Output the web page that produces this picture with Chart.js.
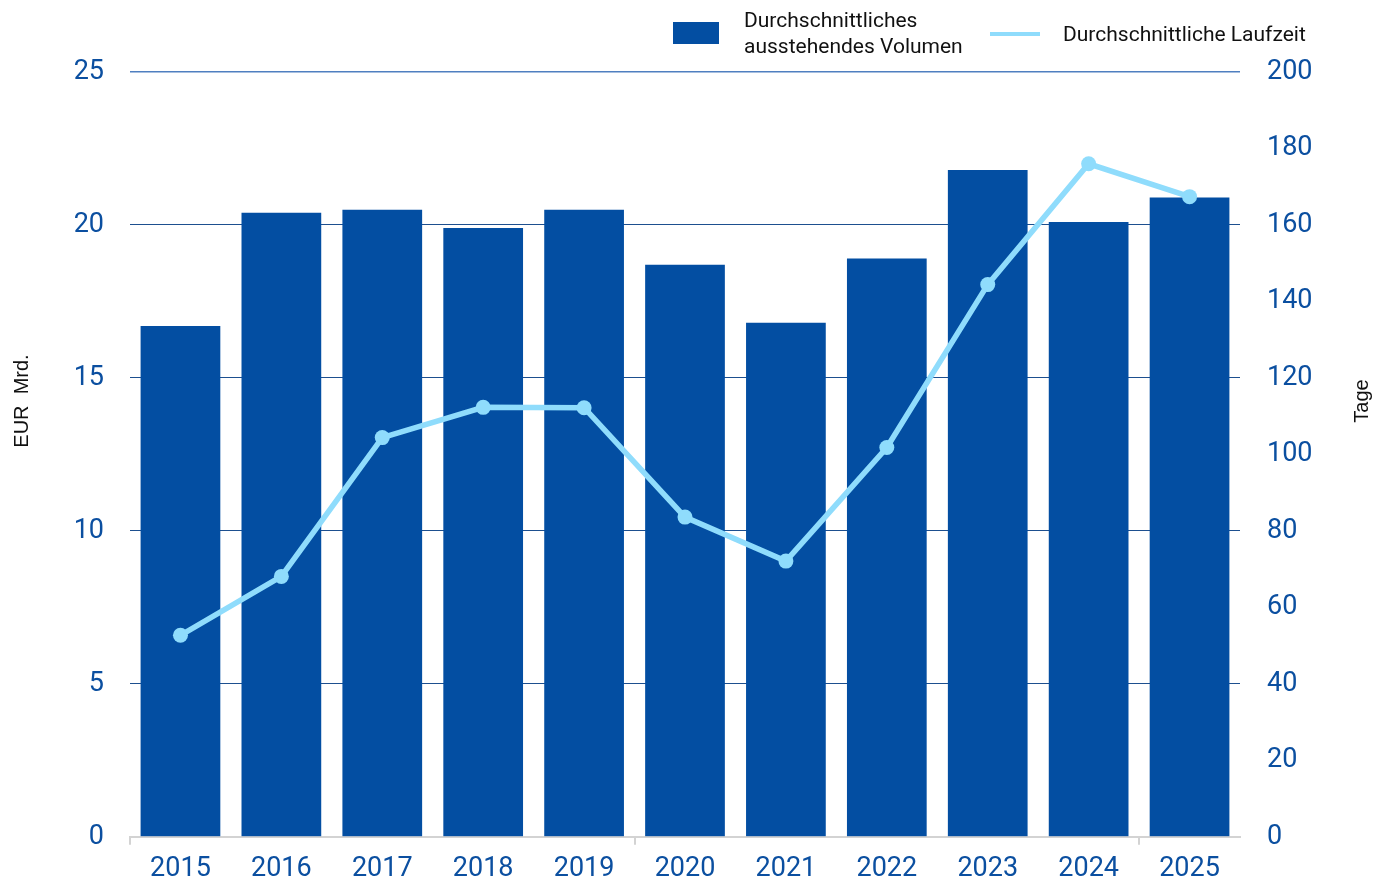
<!DOCTYPE html>
<html>
<head>
<meta charset="utf-8">
<script src="https://cdn.jsdelivr.net/npm/chart.js@4"></script>
<style>
  body { margin: 0; background: #fff; font-family: Roboto, sans-serif; }
  #wrap { position: relative; width: 1373px; height: 880px; }
  .lg { position: absolute; color: #111; font-size: 21px; line-height: 26px; }
</style>
</head>
<body>
<div id="wrap">
  <canvas id="chart" width="1373" height="880"></canvas>
  <div style="position:absolute;left:673px;top:22px;width:46px;height:22px;background:#034ea2"></div>
  <div class="lg" style="left:744px;top:7px">Durchschnittliches<br>ausstehendes Volumen</div>
  <div style="position:absolute;left:990px;top:32px;width:50px;height:4px;background:#8fdcfc"></div>
  <div class="lg" style="left:1063px;top:21px">Durchschnittliche Laufzeit</div>
</div>
<script>
var jahre = ['2015','2016','2017','2018','2019','2020','2021','2022','2023','2024','2025'];
// EUR Mrd.
var volumen = [16.7, 20.4, 20.5, 19.9, 20.5, 18.7, 16.8, 18.9, 21.8, 20.1, 20.9];
// Tage
var laufzeit = [52.7, 68.1, 104.4, 112.3, 112.2, 83.6, 72.1, 101.8, 144.4, 176.0, 167.4];

var blau = '#034ea2';
var hellblau = '#8fdcfc';
var tickBlau = '#0b4fa0';

// axis titles: left and right both read upward
var titelPlugin = {
    id: 'titel',
    afterDraw: function(chart){
        var c = chart.ctx;
        c.save();
        c.fillStyle = '#111';
        c.font = '20px "Liberation Sans"';
        c.textAlign = 'center';
        c.textBaseline = 'middle';
        c.translate(22, 401);
        c.rotate(-Math.PI/2);
        c.fillText('EUR  Mrd.', 0, 0);
        c.restore();
        c.save();
        c.fillStyle = '#111';
        c.font = '20px "Liberation Sans"';
        c.textAlign = 'center';
        c.textBaseline = 'middle';
        c.translate(1362, 401);
        c.rotate(-Math.PI/2);
        c.fillText('Tage', 0, 0);
        c.restore();
    }
};

var grafica = document.getElementById('chart');
var myChart = new Chart(grafica, {
    type: 'bar',
    data: {
        labels: jahre,
        datasets: [{
            type: 'line',
            label: 'Durchschnittliche Laufzeit',
            data: laufzeit,
            yAxisID: 'y1',
            borderColor: hellblau,
            backgroundColor: hellblau,
            borderWidth: 5.5,
            pointRadius: 7.5,
            pointBackgroundColor: hellblau,
            pointBorderWidth: 0,
            tension: 0,
            order: 0
        },{
            label: 'Durchschnittliches ausstehendes Volumen',
            data: volumen,
            yAxisID: 'y',
            backgroundColor: blau,
            barPercentage: 0.79,
            categoryPercentage: 1,
            order: 1
        }]
    },
    options: {
        responsive: false,
        animation: false,
        devicePixelRatio: 1,
        layout: { padding: { top: 72, left: 0, right: 0, bottom: 0 } },
        plugins: {
            legend: { display: false },
            tooltip: { enabled: false }
        },
        scales: {
            x: {
                offset: true,
                grid: {
                    offset: true,
                    drawOnChartArea: false,
                    tickLength: 8,
                    tickColor: function(ctx){ return ctx.index % 5 === 0 ? '#d3d3d3' : 'rgba(0,0,0,0)'; },
                    lineWidth: 2
                },
                border: { color: '#d3d3d3', width: 2 },
                ticks: { color: tickBlau, font: { family: 'Roboto', size: 27 }, padding: 8, maxRotation: 0 },
                afterFit: function(s){ s.height = 41; }
            },
            y: {
                position: 'left',
                min: 0, max: 25,
                ticks: { stepSize: 5, color: tickBlau, font: { family: 'Roboto', size: 27 }, padding: 26 },
                grid: {
                    drawTicks: false,
                    color: function(ctx){
                        if (ctx.tick.value === 0) return 'rgba(0,0,0,0)';
                        return ctx.tick.value === 25 ? '#4f7fc0' : '#1d4f8f';
                    },
                    lineWidth: function(ctx){ return ctx.tick.value === 25 ? 1.5 : 1; }
                },
                border: { display: false },
                afterFit: function(s){ s.width = 130; }
            },
            y1: {
                position: 'right',
                min: 0, max: 200,
                ticks: { stepSize: 20, color: tickBlau, font: { family: 'Roboto', size: 27 }, padding: 27 },
                grid: { drawOnChartArea: false, drawTicks: false },
                border: { display: false },
                afterFit: function(s){ s.width = 133; }
            }
        }
    },
    plugins: [titelPlugin]
});
</script>
</body>
</html>
